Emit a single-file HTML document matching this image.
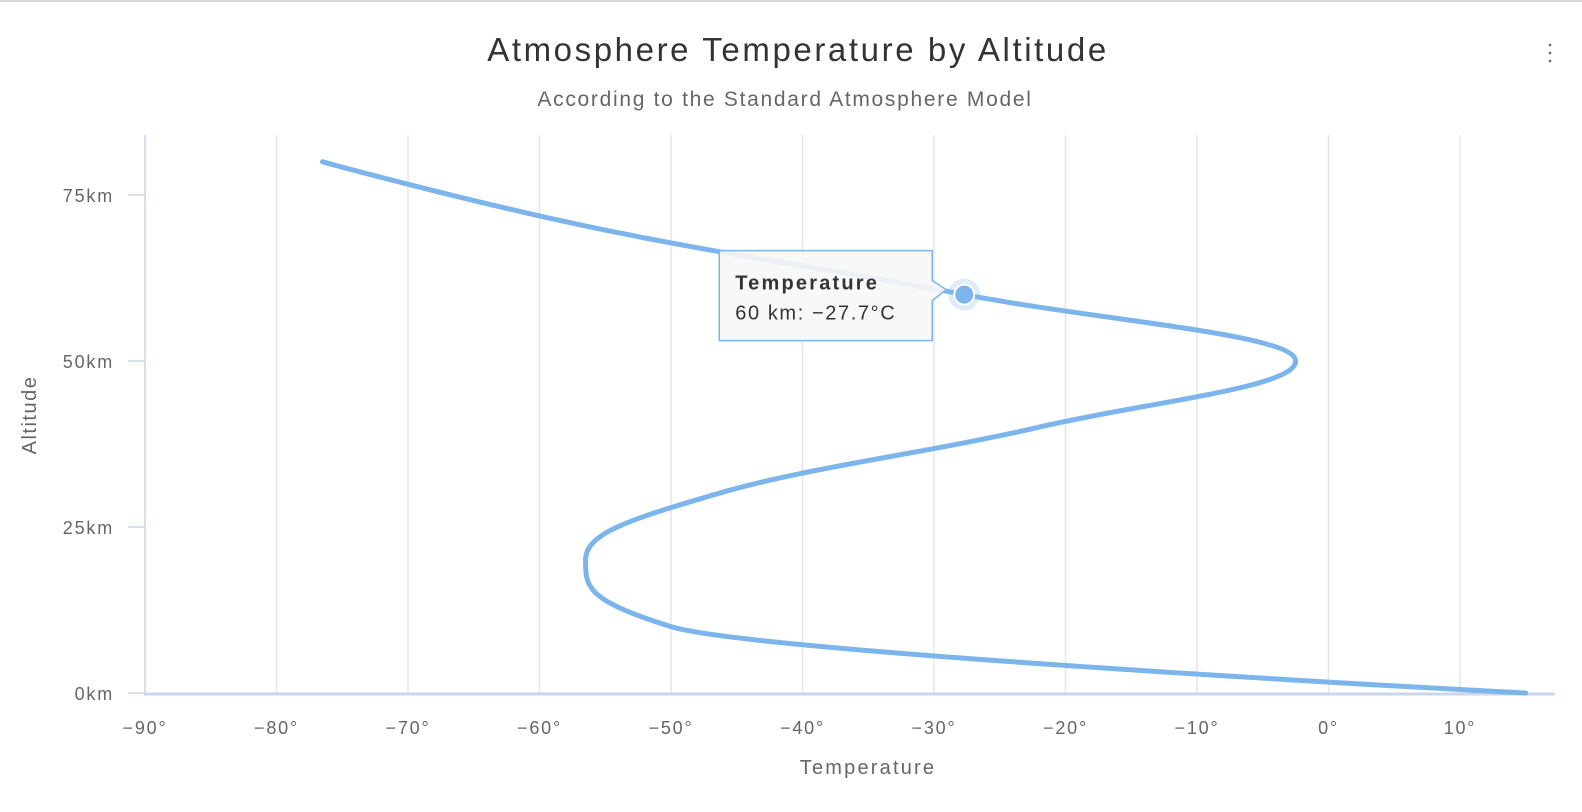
<!DOCTYPE html>
<html><head><meta charset="utf-8"><style>
body{margin:0;background:#fff;font-family:"Liberation Sans",sans-serif}
svg{display:block}
</style></head><body>
<svg id="chart" width="1582" height="812">
<rect x="0" y="0" width="1582" height="2" fill="#d8d8d8"/>
<text x="798" y="61" text-anchor="middle" font-size="33" letter-spacing="2.6" fill="#333">Atmosphere Temperature by Altitude</text>
<text x="785" y="106" text-anchor="middle" font-size="21" letter-spacing="1.7" fill="#666">According to the Standard Atmosphere Model</text>
<g><circle cx="1550" cy="45" r="1.3" fill="#666"/><circle cx="1550" cy="53" r="1.3" fill="#666"/><circle cx="1550" cy="61" r="1.3" fill="#666"/></g>
<g id="grid"></g>
<g id="axes"></g>
<text transform="translate(36,415) rotate(-90)" text-anchor="middle" font-size="20" letter-spacing="1.5" fill="#666">Altitude</text>
<text x="868" y="774" text-anchor="middle" font-size="20" letter-spacing="2.2" fill="#666">Temperature</text>
<g id="series"></g>
<g id="tooltip"></g>
</svg>
<script>
const altitudes=[0,10,20,30,40,50,60,70,80];
const temps=[15,-50,-56.5,-46.5,-22.1,-2.5,-27.7,-55.7,-76.5];
const tempTicks=[-90,-80,-70,-60,-50,-40,-30,-20,-10,0,10];
const altTicks=[0,25,50,75];
const hoverIndex=6;
const NS="http://www.w3.org/2000/svg";
const X=t=>145+(t+90)*13.15;
const Y=a=>693-a*6.64;
function mk(tag,attrs,parent,txt){const e=document.createElementNS(NS,tag);for(const k in attrs)e.setAttribute(k,attrs[k]);if(txt!==undefined)e.textContent=txt;parent.appendChild(e);return e;}
const grid=document.getElementById('grid'),axes=document.getElementById('axes');
tempTicks.forEach(t=>{
 if(t>-90){const l=mk('line',{x1:X(t),x2:X(t),y1:135,y2:693,stroke:'#e6e6e6','stroke-width':1.5},grid);
 
 }
 const tx=mk('text',{x:X(t),y:734,'text-anchor':'middle','font-size':18,'letter-spacing':1.8,fill:'#666'},axes,(t<0?'\u2212'+(-t):t)+'°');
 
 
});
const al=mk('line',{x1:145,x2:145,y1:135,y2:695,stroke:'#ccd6eb','stroke-width':1.5},axes);


const bl=mk('line',{x1:144,x2:1555,y1:694,y2:694,stroke:'#ccd6eb','stroke-width':3},axes);


altTicks.forEach(a=>{
 const tk=mk('line',{x1:128,x2:145,y1:Y(a),y2:Y(a),stroke:'#ccd6eb','stroke-width':1.5},axes);
 
 
 const tx=mk('text',{x:114,y:Y(a)+7,'text-anchor':'end','font-size':18,'letter-spacing':1.8,fill:'#666'},axes,a+'km');
 
 
});
// Highcharts-style spline in un-inverted space: px = altitude pixel, py = temperature pixel
const P=altitudes.map((a,i)=>({px:Y(a),py:X(temps[i])}));
const sm=1.5,den=2.5;
const conts=P.map((p,i)=>{
 if(i===0||i===P.length-1)return {lx:p.px,ly:p.py,rx:p.px,ry:p.py};
 const l=P[i-1],n=P[i+1];
 let lx=(sm*p.px+l.px)/den,ly=(sm*p.py+l.py)/den,rx=(sm*p.px+n.px)/den,ry=(sm*p.py+n.py)/den;
 const corr=((ry-ly)*(rx-p.px))/(rx-lx)+p.py-ry;
 ly+=corr;ry+=corr;
 if(ly>l.py&&ly>p.py){ly=Math.max(l.py,p.py);ry=2*p.py-ly;}
 else if(ly<l.py&&ly<p.py){ly=Math.min(l.py,p.py);ry=2*p.py-ly;}
 if(ry>n.py&&ry>p.py){ry=Math.max(n.py,p.py);ly=2*p.py-ry;}
 else if(ry<n.py&&ry<p.py){ry=Math.min(n.py,p.py);ly=2*p.py-ry;}
 return {lx,ly,rx,ry};
});
let d='M'+P[0].py+' '+P[0].px;
for(let i=1;i<P.length;i++){
 const a=conts[i-1],b=conts[i];
 d+=` C${a.ry} ${a.rx} ${b.ly} ${b.lx} ${P[i].py} ${P[i].px}`;
}
const series=document.getElementById('series');
const path=mk('path',{d:d,fill:'none',stroke:'#7cb5ec','stroke-width':5,'stroke-linecap':'round','stroke-linejoin':'round'},series);


const hp=[X(temps[hoverIndex]),Y(altitudes[hoverIndex])];
const halo=mk('circle',{cx:hp[0],cy:hp[1],r:16,fill:'#7cb5ec','fill-opacity':0.25},series);


const mkp=mk('circle',{cx:hp[0],cy:hp[1],r:10,fill:'#7cb5ec',stroke:'#fff','stroke-width':2},series);


const tt=document.getElementById('tooltip');


const bx=hp[0]-245,by=hp[1]-44;
mk('path',{d:`M${bx} ${by} H${bx+213} V${by+30} L${hp[0]-18} ${hp[1]-5} L${bx+213} ${by+50} V${by+90} H${bx} Z`,fill:'#f7f7f7','fill-opacity':0.9,stroke:'#7cb5ec','stroke-width':1.5},tt);
mk('text',{x:bx+16,y:by+39,'font-size':20,'letter-spacing':2.2,'font-weight':'bold',fill:'#333'},tt,'Temperature');
mk('text',{x:bx+16,y:by+69,'font-size':20,'letter-spacing':1.6,fill:'#333'},tt,altitudes[hoverIndex]+' km: '+(temps[hoverIndex]<0?'\u2212'+(-temps[hoverIndex]):temps[hoverIndex])+'°C');
</script>
</body></html>
